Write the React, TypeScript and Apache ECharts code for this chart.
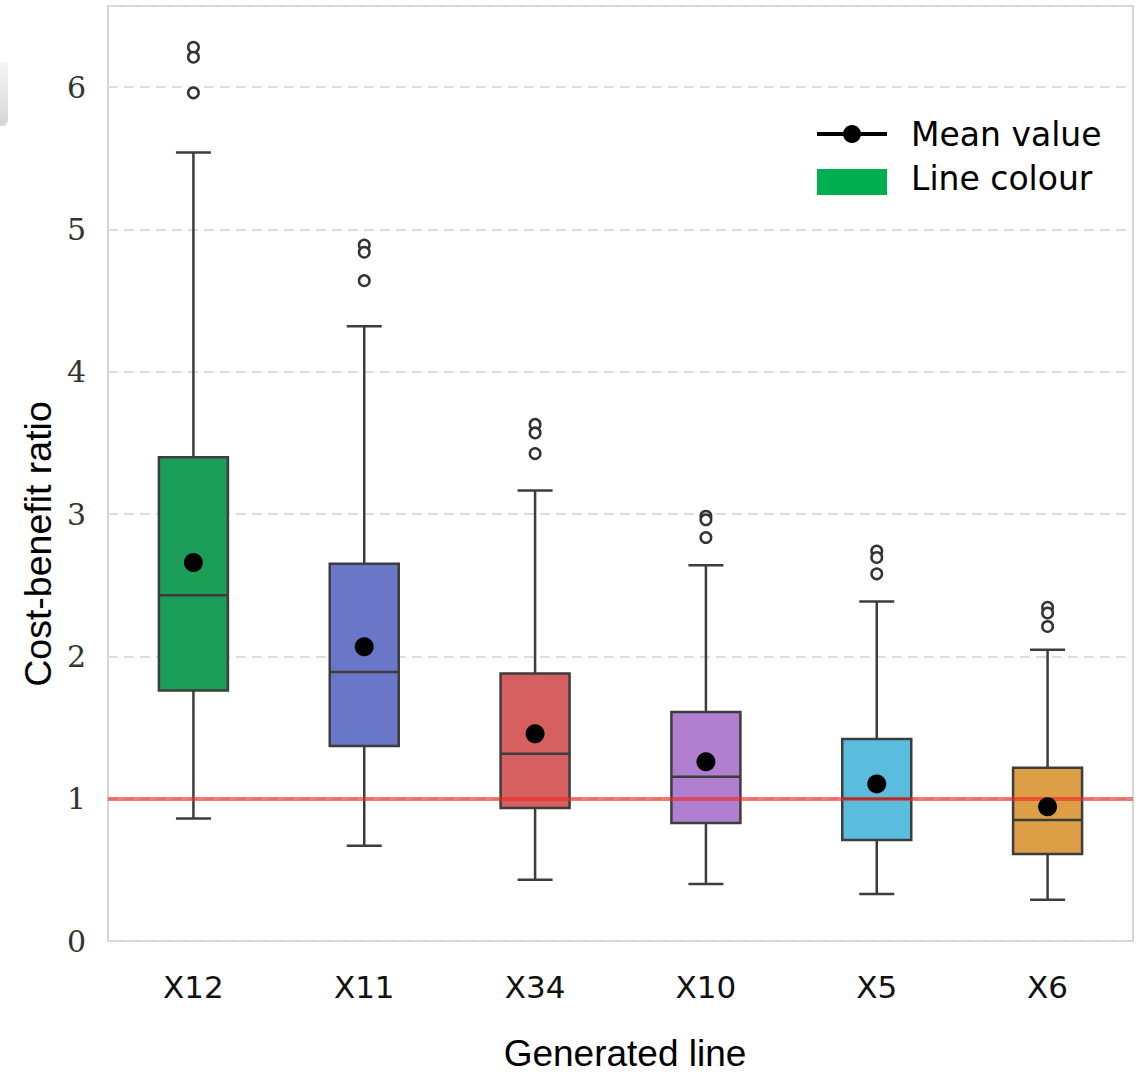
import React, { useEffect, useRef } from "react";
import * as echarts from "echarts";

const categories = ["X12", "X11", "X34", "X10", "X5", "X6"];
// [whiskerLow, Q1, median, Q3, whiskerHigh]
const boxStats = [
  [0.86, 1.76, 2.43, 3.4, 5.54],
  [0.67, 1.37, 1.89, 2.65, 4.32],
  [0.43, 0.935, 1.315, 1.88, 3.165],
  [0.4, 0.83, 1.154, 1.61, 2.64],
  [0.33, 0.71, 1.0, 1.42, 2.385],
  [0.29, 0.612, 0.851, 1.217, 2.047],
];
const meanValues = [2.66, 2.068, 1.456, 1.259, 1.104, 0.943];
const outliers = [
  [6.28, 6.21, 5.96],
  [4.89, 4.84, 4.64],
  [3.63, 3.57, 3.425],
  [2.985, 2.96, 2.835],
  [2.74, 2.695, 2.58],
  [2.345, 2.305, 2.21],
];
const boxColors = ["#1b9e57", "#6a76c8", "#d65f5f", "#b07fcf", "#5bbddd", "#dc9f45"];
const yTicks = [0, 1, 2, 3, 4, 5, 6];
const referenceValue = 1;
const xTitle = "Generated line";
const yTitle = "Cost-benefit ratio";

export default function App() {
  const ref = useRef<HTMLDivElement>(null);
  useEffect(() => {
    if (!ref.current) return;
    const chart = echarts.init(ref.current, null, { renderer: "svg" });
    const edge = "#3d3d3d";
    const boxData = boxStats.map((s, i) => [i, ...s]);
    const outlierData: number[][] = [];
    outliers.forEach((arr, i) => arr.forEach((v) => outlierData.push([i, v])));
    const meanData = meanValues.map((v, i) => [i, v]);

    chart.setOption({
      animation: false,
      backgroundColor: "#ffffff",
      grid: {
        left: 108,
        right: 8,
        top: 6,
        bottom: 133,
        outerBoundsMode: "none",
        containLabel: false,
        show: true,
        borderColor: "#d4d4d4",
        borderWidth: 2,
        backgroundColor: "transparent",
      },
      xAxis: {
        type: "category",
        data: categories,
        boundaryGap: true,
        axisLine: { show: false },
        axisTick: { show: false },
        axisLabel: {
          fontFamily: "DejaVu Sans",
          fontSize: 31,
          color: "#111",
          margin: 30,
        },
        splitLine: { show: false },
      },
      yAxis: {
        type: "value",
        min: 0,
        max: 6.57,
        interval: 1,
        axisLine: { show: false },
        axisTick: { show: false },
        axisLabel: {
          fontFamily: "DejaVu Serif",
          fontSize: 30,
          color: "#333",
          margin: 22,
          formatter: (v: number) => (yTicks.includes(v) ? String(v) : ""),
        },
        splitLine: {
          show: true,
          lineStyle: { color: "#dcdcdc", type: [10, 6], width: 2 },
        },
      },
      series: [
        {
          type: "custom",
          data: boxData,
          encode: { x: 0, y: [1, 2, 3, 4, 5] },
          z: 3,
          renderItem: (params: any, api: any) => {
            const x = api.value(0);
            const lo = api.coord([x, api.value(1)]);
            const q1 = api.coord([x, api.value(2)]);
            const med = api.coord([x, api.value(3)]);
            const q3 = api.coord([x, api.value(4)]);
            const hi = api.coord([x, api.value(5)]);
            const cx = lo[0];
            const bw = 69;
            const cw = 35;
            const ls = { stroke: edge, lineWidth: 2.5 };
            return {
              type: "group",
              children: [
                { type: "line", shape: { x1: cx, y1: hi[1], x2: cx, y2: q3[1] }, style: ls },
                { type: "line", shape: { x1: cx, y1: q1[1], x2: cx, y2: lo[1] }, style: ls },
                { type: "line", shape: { x1: cx - cw / 2, y1: hi[1], x2: cx + cw / 2, y2: hi[1] }, style: ls },
                { type: "line", shape: { x1: cx - cw / 2, y1: lo[1], x2: cx + cw / 2, y2: lo[1] }, style: ls },
                {
                  type: "rect",
                  shape: { x: cx - bw / 2, y: q3[1], width: bw, height: q1[1] - q3[1] },
                  style: { fill: boxColors[params.dataIndex], stroke: edge, lineWidth: 2.5 },
                },
                { type: "line", shape: { x1: cx - bw / 2, y1: med[1], x2: cx + bw / 2, y2: med[1] }, style: ls },
              ],
            };
          },
        },
        {
          type: "scatter",
          data: outlierData,
          symbol: "circle",
          symbolSize: 10.5,
          z: 4,
          itemStyle: { color: "#ffffff", borderColor: "#333", borderWidth: 2.5, opacity: 1 },
        },
        {
          type: "line",
          data: [],
          z: 5,
          markLine: {
            silent: true,
            symbol: "none",
            label: { show: false },
            lineStyle: { color: "rgba(240,40,40,0.62)", width: 4, type: "solid", opacity: 1 },
            data: [{ yAxis: referenceValue }],
          },
        },
        {
          type: "scatter",
          data: meanData,
          symbol: "circle",
          symbolSize: 19,
          z: 6,
          itemStyle: { color: "#000000", opacity: 1 },
        },
      ],
      graphic: [
        {
          type: "rect",
          shape: { x: 0, y: 62, width: 8, height: 64, r: [0, 0, 6, 0] },
          style: {
            fill: new echarts.graphic.LinearGradient(0, 0, 0, 1, [
              { offset: 0, color: "#f6f6f6" },
              { offset: 1, color: "#d6d6d6" },
            ]),
          },
        },
        {
          type: "text",
          x: 38,
          y: 544,
          rotation: Math.PI / 2,
          style: {
            text: yTitle,
            fontFamily: "Liberation Sans",
            fontSize: 37.5,
            fill: "#000",
            align: "center",
            verticalAlign: "middle",
          },
        },
        {
          type: "text",
          x: 625,
          y: 1053,
          style: {
            text: xTitle,
            fontFamily: "Liberation Sans",
            fontSize: 37,
            fill: "#000",
            align: "center",
            verticalAlign: "middle",
          },
        },
        {
          type: "line",
          shape: { x1: 817, y1: 134, x2: 887, y2: 134 },
          style: { stroke: "#000", lineWidth: 4 },
          z: 10,
        },
        {
          type: "circle",
          shape: { cx: 852, cy: 134, r: 9 },
          style: { fill: "#000" },
          z: 10,
        },
        {
          type: "text",
          x: 911,
          y: 134,
          style: {
            text: "Mean value",
            fontFamily: "DejaVu Sans",
            fontSize: 33,
            fill: "#000",
            verticalAlign: "middle",
          },
          z: 10,
        },
        {
          type: "rect",
          shape: { x: 817, y: 169, width: 70, height: 26 },
          style: { fill: "#00b050" },
          z: 10,
        },
        {
          type: "text",
          x: 911,
          y: 178,
          style: {
            text: "Line colour",
            fontFamily: "DejaVu Sans",
            fontSize: 33,
            fill: "#000",
            verticalAlign: "middle",
          },
          z: 10,
        },
      ],
    });
    return () => chart.dispose();
  }, []);
  return (
    <div
      ref={ref}
      style={{ position: "fixed", left: 0, top: 0, width: 1141, height: 1074, background: "#fff" }}
    />
  );
}
